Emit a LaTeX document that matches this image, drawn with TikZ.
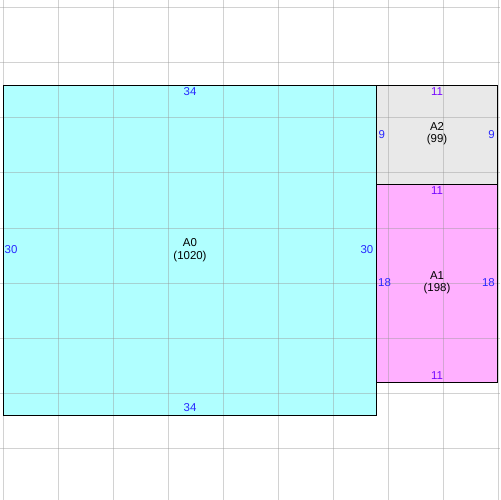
\documentclass[tikz,border=0pt]{standalone}
\usepackage{fontspec}
\setmainfont{Liberation Sans}
\definecolor{cfill}{RGB}{176,255,255}
\definecolor{gfill}{RGB}{233,233,233}
\definecolor{pfill}{RGB}{255,176,255}
\definecolor{gridc}{RGB}{150,150,150}
\definecolor{numblue}{RGB}{40,40,255}
\definecolor{numviolet}{RGB}{120,10,255}
\tikzset{
  gridline/.style={draw=gridc, draw opacity=0.42, line width=1bp},
  border/.style={draw=black, line width=0.9bp},
  lab/.style={inner sep=0pt, font=\fontsize{11.5}{12.5}\selectfont, align=center, text=black},
  hnum/.style={inner sep=0pt, font=\fontsize{11.5}{12.5}\selectfont, text=numviolet},
  vnum/.style={inner sep=0pt, font=\fontsize{11.5}{12.5}\selectfont, text=numblue},
}
\begin{document}
\begin{tikzpicture}[x=1bp,y=-1bp]
\useasboundingbox (0,0) rectangle (500,500);
\fill[white] (0,0) rectangle (500,500);
% fills
\fill[cfill] (3.3,85) rectangle (376.7,415);
\fill[gfill] (376.7,85) rectangle (497.3,184);
\fill[pfill] (376.7,184) rectangle (497.3,382.3);
% grid
\foreach \k in {0,...,9} {
  \draw[gridline] ({3.3+55*\k},0) -- ({3.3+55*\k},500);
  \draw[gridline] (0,{8+55*\k}) -- (500,{8+55*\k});
}
% borders
\draw[border] (3.3,85) rectangle (376.7,415);
\draw[border] (376.7,85) rectangle (497.3,184);
\draw[border] (376.7,184) rectangle (497.3,382.3);
% A0
\node[lab] (a0) at (190,250) {A0\\(1020)};
\node[vnum] (a0t) at (190,92) {34};
\node[vnum] (a0b) at (190,408) {34};
\node[vnum, anchor=west] (a0l) at (4.5,250) {30};
\node[vnum, anchor=east] (a0r) at (373.5,250) {30};
% A2
\node[lab] (a2) at (437,133.5) {A2\\(99)};
\node[hnum] (a2t) at (437,92) {11};
\node[vnum, anchor=west] (a2l) at (378.5,134.5) {9};
\node[vnum, anchor=east] (a2r) at (495,134.5) {9};
% A1
\node[lab] (a1) at (437,283) {A1\\(198)};
\node[hnum] (a1t) at (437,191) {11};
\node[hnum] (a1b) at (437,375.5) {11};
\node[vnum, anchor=west] (a1l) at (378,283) {18};
\node[vnum, anchor=east] (a1r) at (495,283) {18};
\end{tikzpicture}
\end{document}
